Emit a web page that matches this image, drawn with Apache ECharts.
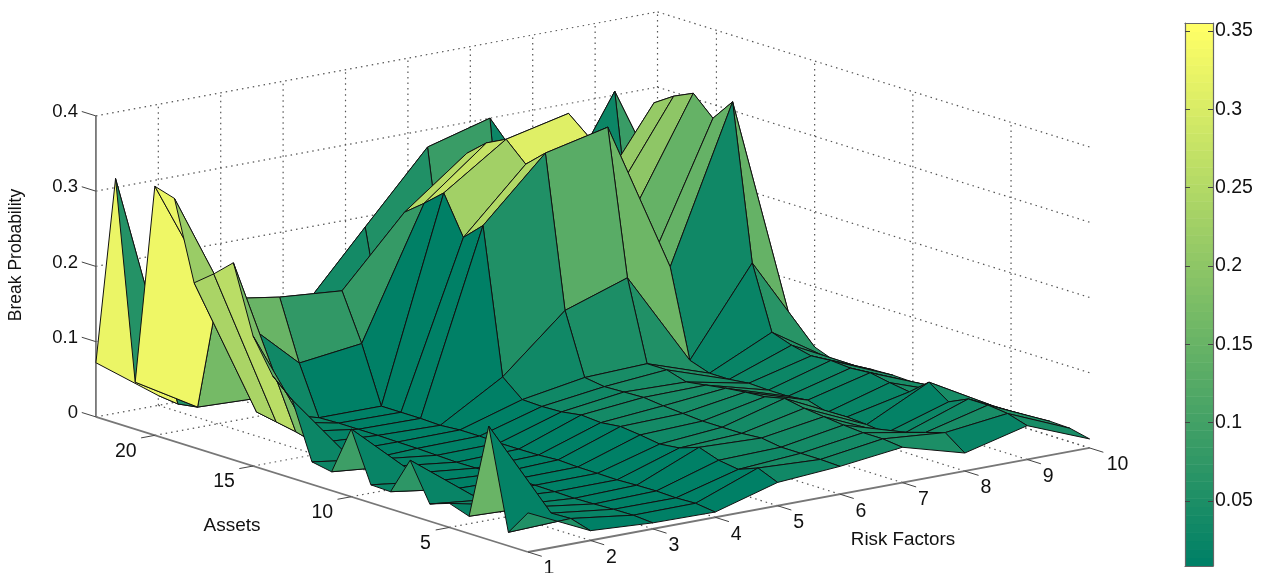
<!DOCTYPE html>
<html>
<head>
<meta charset="utf-8">
<style>html,body{margin:0;padding:0;background:#fff}#c{width:1269px;height:573px}</style>
<script src="https://cdn.jsdelivr.net/npm/echarts@6/dist/echarts.min.js"></script>
</head>
<body>
<div id="c"></div>
<script>
// Break probability at Assets 1..23, one list per Risk Factor
const riskFactor1  = [.052,.018,.151,.023,.032,.023,.073,.023,.024,.09,.025,.03,.104,.128,.173,.262,.239,.219,.323,.331,.0625,.325,.072];
const riskFactor2  = [.013,.021,.02,.02,.014,.014,.011,.011,.0133,.016,.017,.018,.006,.01,.015,.022,.027,.032,.15,.166,.014,.01,.013];
const riskFactor3  = [.008,.01,.0097,.0086,.008,.0086,.009,.009,.008,.0073,.007,.008,.009,.0094,.01,.01,.01,.009,.0735,.153,.011,.02,.02];
const riskFactor4  = [.007,.0105,.0095,.0105,.01,.009,.0095,.0097,.011,.0093,.009,.009,.01,.01,.008,.009,.009,.009,.084,.146,.04,.107,.03];
const riskFactor5  = [.031,.042,.032,.036,.045,.036,.033,.037,.04,.037,.039,.035,.034,.035,.057,.25,.226,.277,.255,.235,.057,.199,.03];
const riskFactor6  = [.037,.038,.038,.038,.042,.04,.04,.04,.042,.044,.047,.046,.045,.049,.13,.331,.308,.333,.32,.298,.088,.29,.03];
const riskFactor7  = [.047,.05,.05,.052,.055,.058,.063,.057,.055,.052,.048,.044,.052,.052,.158,.35,.33,.352,.28,.15,.03,.313,.03];
const riskFactor8  = [.024,.043,.035,.027,.018,.021,.023,.021,.029,.026,.026,.027,.024,.024,.033,.149,.147,.2,.212,.203,.03,.18,.03];
const riskFactor9  = [.045,.053,.056,.056,.044,.062,.041,.045,.05,.048,.05,.048,.054,.063,.147,.353,.323,.348,.336,.319,.088,.318,.25];
const riskFactor10 = [.012,.018,.019,.017,.016,.016,.016,.016,.017,.014,.015,.014,.012,.01,.02,.025,.03,.03,.04,.05,.05,.135,.1];
const surface = [riskFactor1,riskFactor2,riskFactor3,riskFactor4,riskFactor5,riskFactor6,riskFactor7,riskFactor8,riskFactor9,riskFactor10];

const riskTicks = [1,2,3,4,5,6,7,8,9,10];
const assetTicks = [5,10,15,20];
const probTicks = [0,0.1,0.2,0.3,0.4];
const probLabels = ['0','0.1','0.2','0.3','0.4'];
const colorbarTicks = [0.05,0.1,0.15,0.2,0.25,0.3,0.35];
const colorMin = 0.0084, colorMax = 0.3551;

const FONT = '"Liberation Sans", Arial, sans-serif';
const R_MAX = 10, A_MAX = 23, Z_MAX = 0.4;
// fixed oblique view of the 3D box
function project(r, a, z) {
  return [528 + 62.4*(r-1) - 19.64*(a-1), 552 - 11.56*(r-1) - 6.14*(a-1) - 752.5*z];
}
function summer(v) {
  let t = (v - colorMin) / (colorMax - colorMin);
  t = Math.max(0, Math.min(1, t));
  t = Math.floor(t*63.999)/63;
  return 'rgb(' + Math.round(255*t) + ',' + Math.round(255*(0.5+0.5*t)) + ',102)';
}

// grid cells, far to near
const cells = [];
for (let a = A_MAX-1; a >= 1; a--) for (let r = R_MAX-1; r >= 1; r--) {
  cells.push([r, a, surface[r-1][a-1], surface[r][a-1], surface[r][a], surface[r-1][a]]);
}
// dotted box lines: [r0,a0,z0,r1,a1,z1]
const dotted = [];
probTicks.forEach(z => {
  dotted.push([1,A_MAX,z,R_MAX,A_MAX,z]);
  dotted.push([R_MAX,A_MAX,z,R_MAX,1,z]);
});
riskTicks.slice(1).forEach(r => {
  dotted.push([r,A_MAX,0,r,A_MAX,Z_MAX]);
  dotted.push([r,1,0,r,A_MAX,0]);
});
assetTicks.forEach(a => {
  dotted.push([R_MAX,a,0,R_MAX,a,Z_MAX]);
  dotted.push([1,a,0,R_MAX,a,0]);
});
// solid axis lines
const axisLines = [
  [1,A_MAX,0,1,A_MAX,Z_MAX],
  [1,1,0,1,A_MAX,0],
  [1,1,0,R_MAX,1,0]
];
// ticks: start point plus end point along the neighbouring axis
const tickLines = [];
probTicks.forEach(z => tickLines.push([1,A_MAX,z,1,A_MAX+0.72,z]));
riskTicks.forEach(r => tickLines.push([r,1,0,r,0.3,0]));
assetTicks.forEach(a => tickLines.push([1,a,0,0.78,a,0]));

const axisTexts = [];
probTicks.forEach((z,i) => axisTexts.push({p:project(1,A_MAX,z), dx:-18, dy:-4, t:probLabels[i], align:'right', size:18.5}));
riskTicks.forEach(r => axisTexts.push({p:project(r,1,0), dx:r===10?28:21, dy:17, t:String(r), align:'center', size:19.5}));
assetTicks.forEach(a => axisTexts.push({p:project(1,a,0), dx:a===5?-24:-29, dy:16, t:String(a), align:'center', size:19.5}));

function lineSeries(rows, style, z) {
  return {
    type:'custom', coordinateSystem:'cartesian2d', xAxisIndex:0, yAxisIndex:0, silent:true, z:z, clip:false,
    data: rows,
    renderItem(params, api) {
      const d = rows[params.dataIndex];
      return {type:'polyline', shape:{points:[api.coord(project(d[0],d[1],d[2])), api.coord(project(d[3],d[4],d[5]))]}, style:style};
    }
  };
}
const levels = Array.from({length:64}, (_,i) => i);
const frameAxis = {show:true,onZero:false,lineStyle:{color:'#666',width:1.2}};
const option = {
  animation:false,
  backgroundColor:'#fff',
  grid:[
    {left:0,right:0,top:0,bottom:0},
    {left:1185,width:28,top:23,height:543}
  ],
  xAxis:[
    {type:'value',gridIndex:0,min:0,max:1269,show:false},
    {type:'value',gridIndex:1,min:0,max:1,show:true,z:6,position:'top',axisLine:frameAxis,axisTick:{show:false},axisLabel:{show:false},splitLine:{show:false}},
    {type:'value',gridIndex:1,min:0,max:1,show:true,z:6,position:'bottom',axisLine:frameAxis,axisTick:{show:false},axisLabel:{show:false},splitLine:{show:false}}
  ],
  yAxis:[
    {type:'value',gridIndex:0,min:0,max:573,inverse:true,show:false},
    {type:'value',gridIndex:1,z:6,position:'right',min:colorMin,max:colorMax,
      axisLine:frameAxis,
      axisTick:{show:true,inside:true,length:5,lineStyle:{color:'#444'},customValues:colorbarTicks},
      axisLabel:{show:true,margin:2,color:'#111',fontFamily:FONT,fontSize:19.5,customValues:colorbarTicks,formatter:v=>String(+v.toFixed(2))},
      splitLine:{show:false}},
    {type:'value',gridIndex:1,z:6,position:'left',min:colorMin,max:colorMax,
      axisLine:frameAxis,
      axisTick:{show:true,inside:true,length:5,lineStyle:{color:'#444'},customValues:colorbarTicks},
      axisLabel:{show:false},splitLine:{show:false}}
  ],
  series:[
    lineSeries(dotted,{stroke:'#555',lineWidth:1.2,lineDash:[1.5,4],fill:null},1),
    lineSeries(axisLines,{stroke:'#777',lineWidth:1.8,fill:null},2),
    lineSeries(tickLines,{stroke:'#444',lineWidth:1,fill:null},2),
    {
      type:'custom',coordinateSystem:'cartesian2d',xAxisIndex:0,yAxisIndex:0,silent:true,z:3,clip:false,
      data:cells,
      renderItem(params, api) {
        const c = cells[params.dataIndex], r=c[0], a=c[1];
        const pts = [project(r,a,c[2]),project(r+1,a,c[3]),project(r+1,a+1,c[4]),project(r,a+1,c[5])].map(p=>api.coord(p));
        return {type:'polygon',shape:{points:pts},style:{fill:summer(c[2]),stroke:'#111',lineWidth:1,lineJoin:'round'}};
      }
    },
    {
      type:'custom',coordinateSystem:'cartesian2d',xAxisIndex:0,yAxisIndex:0,silent:true,z:4,clip:false,
      data:axisTexts,
      renderItem(params, api) {
        const d = axisTexts[params.dataIndex], q = api.coord(d.p);
        return {type:'text',style:{x:q[0]+d.dx,y:q[1]+d.dy,text:d.t,align:d.align,verticalAlign:'middle',fill:'#111',font:d.size+'px '+FONT}};
      }
    },
    {
      type:'custom',coordinateSystem:'cartesian2d',xAxisIndex:1,yAxisIndex:1,silent:true,z:2,clip:false,
      data:levels,
      renderItem(params, api) {
        const i = params.dataIndex, h=(colorMax-colorMin)/64;
        const lo = colorMin+i*h, hi = lo+h;
        const p0 = api.coord([0,lo]), p1 = api.coord([1,hi]);
        return {type:'rect',shape:{x:p0[0],y:p1[1],width:p1[0]-p0[0],height:p0[1]-p1[1]+0.5},
          style:{fill:summer(colorMin+(i+0.5)/64*(colorMax-colorMin))}};
      }
    }
  ],
  graphic:[
    {type:'text',x:16,y:255,rotation:Math.PI/2,style:{text:'Break Probability',align:'center',verticalAlign:'middle',fill:'#111',font:'17.5px '+FONT}},
    {type:'text',x:232,y:526,style:{text:'Assets',align:'center',verticalAlign:'middle',fill:'#111',font:'19px '+FONT}},
    {type:'text',x:903,y:540,style:{text:'Risk Factors',align:'center',verticalAlign:'middle',fill:'#111',font:'18.8px '+FONT}}
  ]
};
echarts.init(document.getElementById('c'),null,{renderer:'canvas'}).setOption(option);
</script>
</body>
</html>
